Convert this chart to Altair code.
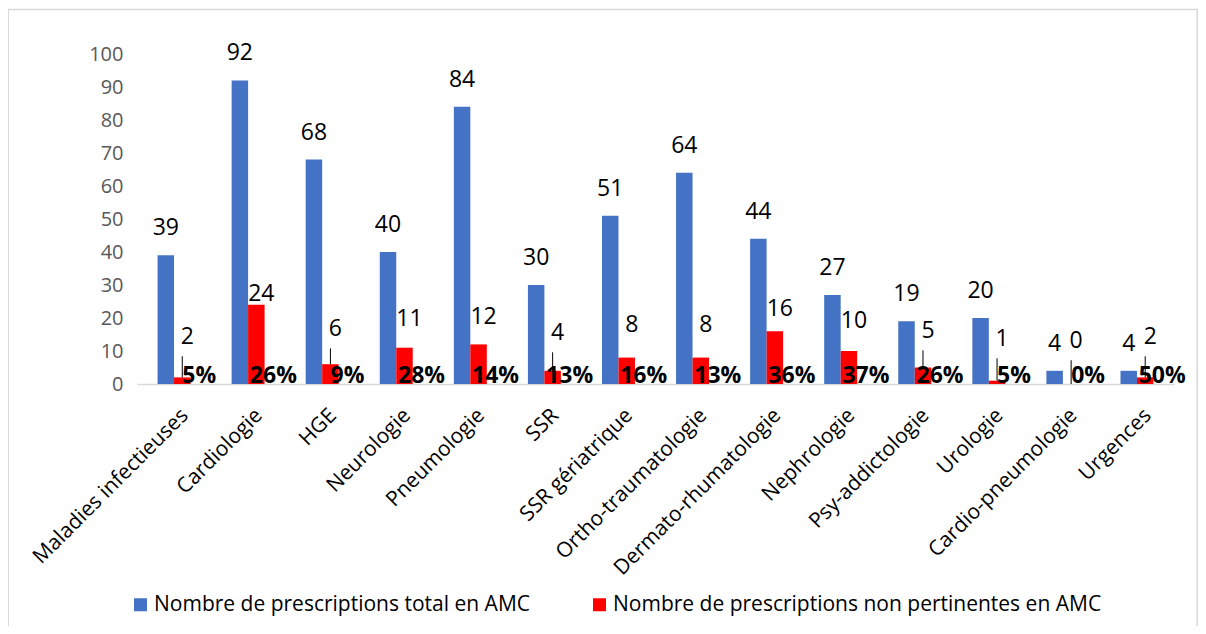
import altair as alt
import pandas as pd

categories = ["Maladies infectieuses", "Cardiologie", "HGE", "Neurologie", "Pneumologie",
              "SSR", "SSR gériatrique", "Ortho-traumatologie", "Dermato-rhumatologie",
              "Nephrologie", "Psy-addictologie", "Urologie", "Cardio-pneumologie", "Urgences"]
total = [39, 92, 68, 40, 84, 30, 51, 64, 44, 27, 19, 20, 4, 4]
non_pertinent = [2, 24, 6, 11, 12, 4, 8, 8, 16, 10, 5, 1, 0, 2]
pct_labels = ["5%", "26%", "9%", "28%", "14%", "13%", "16%", "13%", "36%", "37%", "26%", "5%", "0%", "50%"]
series_names = ["Nombre de prescriptions total en AMC",
                "Nombre de prescriptions non pertinentes en AMC"]
colors = ["#4472C4", "#FF0000"]
y_ticks = list(range(0, 101, 10))

rows = []
for i, c in enumerate(categories):
    rows.append({"cat": c, "series": series_names[0], "value": total[i], "pct": pct_labels[i]})
    rows.append({"cat": c, "series": series_names[1], "value": non_pertinent[i], "pct": pct_labels[i]})
df = pd.DataFrame(rows)

FONT = "Open Sans"

x_enc = alt.X("cat:N", sort=categories,
              scale=alt.Scale(paddingInner=0.555, paddingOuter=0.2775),
              axis=alt.Axis(title=None, labelAngle=-45, labelAlign="right", labelBaseline="middle",
                            labelFont=FONT, labelFontSize=21, labelColor="#000000",
                            labelPadding=28, labelOffset=11, labelLimit=400, labelOverlap=False,
                            ticks=False, tickSize=0, domainColor="#d9d9d9", domainWidth=1.5,
                            grid=False))
xo_enc = alt.XOffset("series:N", sort=series_names,
                     scale=alt.Scale(domain=series_names, paddingInner=0, paddingOuter=0))
y_axis = alt.Axis(title=None, values=y_ticks, tickCount=11, labelFont=FONT, labelFontSize=20,
                  labelColor="#595959", labelPadding=14, ticks=False, tickSize=0,
                  labelOverlap=False, domain=False, grid=False)
y_scale = alt.Scale(domain=[0, 100], nice=False)


def y_of(field):
    return alt.Y(field, scale=y_scale, axis=y_axis, title=None)


base = alt.Chart(df)
is_total = alt.datum.series == series_names[0]
is_red = alt.datum.series == series_names[1]

bars = base.mark_bar().encode(
    x=x_enc, xOffset=xo_enc,
    y=y_of("value:Q"),
    color=alt.Color("series:N", sort=series_names,
                    scale=alt.Scale(domain=series_names, range=colors),
                    legend=alt.Legend(title=None, orient="none", legendX=-7, legendY=540,
                                      direction="horizontal", symbolType="square",
                                      symbolSize=169, symbolStrokeWidth=0,
                                      labelFont=FONT, labelFontSize=21, labelColor="#000000",
                                      labelOffset=3, labelLimit=800, columnPadding=59,
                                      padding=0)),
)

leader = base.transform_filter(is_red).transform_filter(alt.datum.value <= 6).transform_calculate(
    lab_low="13 + 0.6 * datum.value - 5.8"
).mark_rule(color="#000000", strokeWidth=1).encode(
    x=x_enc, xOffset=xo_enc, y=y_of("value:Q"), y2=alt.Y2("lab_low:Q")
)

red_lab = base.transform_filter(is_red).transform_calculate(
    lab="13 + 0.6 * datum.value"
).mark_text(font=FONT, fontSize=23, baseline="middle", dx=5, color="#000000").encode(
    x=x_enc, xOffset=xo_enc, y=y_of("lab:Q"), text=alt.Text("value:Q")
)

blue_lab = base.transform_filter(is_total).mark_text(
    font=FONT, fontSize=23, baseline="middle", dy=-27, color="#000000"
).encode(x=x_enc, xOffset=xo_enc, y=y_of("value:Q"), text=alt.Text("value:Q"))

pct_lab = base.transform_filter(is_red).mark_text(
    font=FONT, fontSize=23, fontWeight="bold", baseline="alphabetic", dy=-1, dx=17,
    align="center", color="#000000"
).encode(x=x_enc, xOffset=xo_enc, y=alt.datum(0, scale=y_scale, axis=y_axis),
         text=alt.Text("pct:N"))

border = alt.Chart(pd.DataFrame({"k": [0]})).mark_rect(
    fillOpacity=0, stroke="#d9d9d9", strokeWidth=1.5
).encode(x=alt.value(-128.8), x2=alt.value(1060.2), y=alt.value(-44.5), y2=alt.value(600))

chart = alt.layer(border, bars, leader, red_lab, blue_lab, pct_lab).properties(
    width=1037, height=330,
    autosize=alt.AutoSizeParams(type="none"),
    padding={"left": 129, "top": 46, "right": 24, "bottom": 242},
).configure_view(strokeWidth=0)

chart.save("out.html", embed_options={"renderer": "svg", "actions": False})
